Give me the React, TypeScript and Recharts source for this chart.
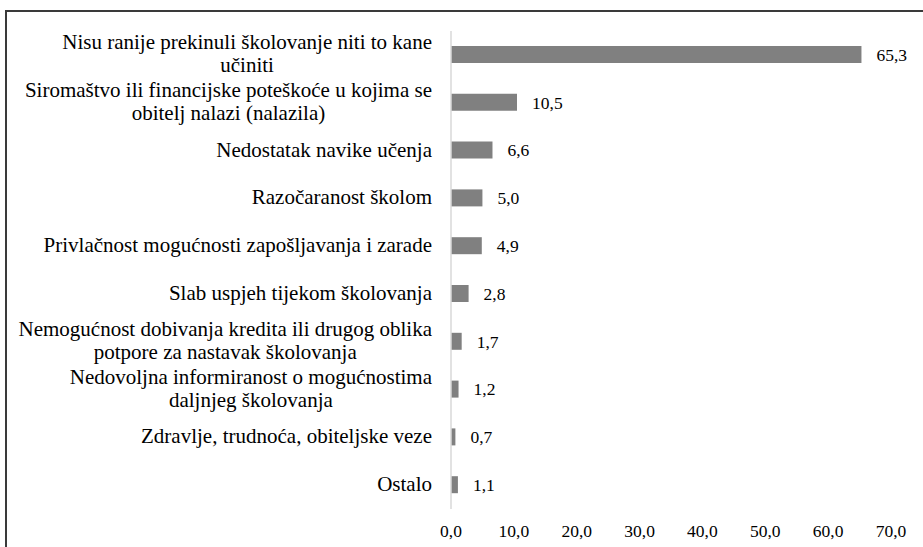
import { Bar, BarChart, LabelList, XAxis, YAxis } from "recharts";

const categories = [
  "Nisu ranije prekinuli školovanje niti to kane\nučiniti",
  "Siromaštvo ili financijske poteškoće u kojima se\nobitelj nalazi (nalazila)",
  "Nedostatak navike učenja",
  "Razočaranost školom",
  "Privlačnost mogućnosti zapošljavanja i zarade",
  "Slab uspjeh tijekom školovanja",
  "Nemogućnost dobivanja kredita ili drugog oblika\npotpore za nastavak školovanja",
  "Nedovoljna informiranost o mogućnostima\ndaljnjeg školovanja",
  "Zdravlje, trudnoća, obiteljske veze",
  "Ostalo",
];

const shares = [65.3, 10.5, 6.6, 5.0, 4.9, 2.8, 1.7, 1.2, 0.7, 1.1];

const xTicks = [0, 10, 20, 30, 40, 50, 60, 70];

const data = categories.map((name, i) => ({ name, value: shares[i] }));

const FONT = "'Times New Roman', 'Liberation Serif', 'DejaVu Serif', serif";
const LABEL_SIZE = 21;
const SMALL_SIZE = 17.5;

const fmt = (v: number) => Number(v).toFixed(1).replace(".", ",");

let measureCtx: CanvasRenderingContext2D | null = null;
function textWidth(text: string): number {
  if (!measureCtx) {
    measureCtx = document.createElement("canvas").getContext("2d");
  }
  if (!measureCtx) return text.length * LABEL_SIZE * 0.45;
  measureCtx.font = `${LABEL_SIZE}px ${FONT}`;
  return measureCtx.measureText(text).width;
}

interface TickProps {
  x?: number;
  y?: number;
  payload?: { value: string };
}

// wrapped labels are centred as a block, the block sits flush right against the axis
function CategoryTick({ x = 0, y = 0, payload }: TickProps) {
  const lines = String(payload?.value ?? "").split("\n");
  const lineHeight = 23;
  const style = { fontFamily: FONT, fontSize: LABEL_SIZE };
  if (lines.length === 1) {
    return (
      <text x={x} y={y + 6} textAnchor="end" fill="#000" style={style}>
        {lines[0]}
      </text>
    );
  }
  const blockWidth = Math.max(...lines.map(textWidth));
  const cx = x - blockWidth / 2;
  return (
    <g>
      {lines.map((line, i) => (
        <text
          key={i}
          x={cx}
          y={y + 5.5 + (i - (lines.length - 1) / 2) * lineHeight}
          textAnchor="middle"
          fill="#000"
          style={style}
        >
          {line}
        </text>
      ))}
    </g>
  );
}

export default function App() {
  return (
    <div
      style={{
        position: "absolute",
        left: 0,
        top: 0,
        width: 923,
        height: 547,
        overflow: "hidden",
        background: "#fff",
        fontFamily: FONT,
      }}
    >
      <div
        style={{
          position: "absolute",
          left: 5,
          top: 10,
          width: 940,
          height: 560,
          borderTop: "2px solid #3a3a3a",
          borderLeft: "2px solid #3a3a3a",
        }}
      />
      <div style={{ position: "absolute", left: 0, top: 0 }}>
        <BarChart
          width={923}
          height={547}
          data={data}
          layout="vertical"
          margin={{ top: 31, right: 32, left: 0, bottom: 0 }}
          style={{ fontFamily: FONT }}
        >
          <XAxis
            type="number"
            domain={[0, 70]}
            ticks={xTicks}
            tickFormatter={fmt}
            axisLine={false}
            tickLine={false}
            tickMargin={10}
            height={38}
            tick={{ fill: "#000", fontSize: SMALL_SIZE, style: { fontFamily: FONT } }}
          />
          <YAxis
            type="category"
            dataKey="name"
            width={451}
            axisLine={{ stroke: "#d9d9d9", strokeWidth: 1.5 }}
            tickLine={false}
            tickMargin={13}
            interval={0}
            tick={<CategoryTick />}
          />
          <Bar dataKey="value" fill="#808080" barSize={17} isAnimationActive={false}>
            <LabelList
              dataKey="value"
              position="right"
              offset={15}
              formatter={(v: number) => fmt(v)}
              fill="#000"
              fontSize={SMALL_SIZE}
              style={{ fontFamily: FONT }}
            />
          </Bar>
        </BarChart>
      </div>
    </div>
  );
}
